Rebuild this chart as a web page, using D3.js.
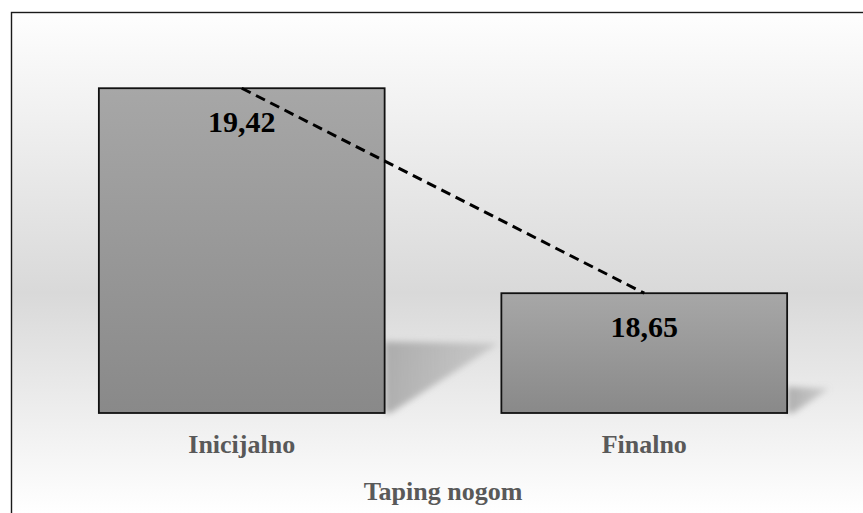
<!DOCTYPE html>
<html>
<head>
<meta charset="utf-8">
<script src="https://cdn.jsdelivr.net/npm/d3@7"></script>
<style>
  html, body { margin: 0; padding: 0; background: #fff; }
  svg { display: block; }
</style>
</head>
<body>
<svg id="chart" width="863" height="513"></svg>
<script>
const categories = ["Inicijalno", "Finalno"];
const values = [19.42, 18.65];
const valueLabels = ["19,42", "18,65"];
const axisTitle = "Taping nogom";
const yDomain = [18.2, 19.6];

const W = 863, H = 513;
const svg = d3.select("#chart");
const defs = svg.append("defs");

const bg = defs.append("linearGradient").attr("id", "bg")
  .attr("gradientUnits", "userSpaceOnUse").attr("x1", 0).attr("y1", 12).attr("x2", 0).attr("y2", 513);
bg.append("stop").attr("offset", 0).attr("stop-color", "#fefefe");
bg.append("stop").attr("offset", 0.56).attr("stop-color", "#d9d9d9");
bg.append("stop").attr("offset", 1).attr("stop-color", "#ffffff");

const barG = defs.append("linearGradient").attr("id", "barg")
  .attr("x1", 0).attr("y1", 0).attr("x2", 0).attr("y2", 1);
barG.append("stop").attr("offset", 0).attr("stop-color", "#a7a7a7");
barG.append("stop").attr("offset", 1).attr("stop-color", "#898989");

const shG = defs.append("linearGradient").attr("id", "shg")
  .attr("x1", 0).attr("y1", 0).attr("x2", 1).attr("y2", 0);
shG.append("stop").attr("offset", 0).attr("stop-color", "#9a9a9a").attr("stop-opacity", 0.75);
shG.append("stop").attr("offset", 1).attr("stop-color", "#9a9a9a").attr("stop-opacity", 0.35);

const blur = defs.append("filter").attr("id", "blur")
  .attr("x", "-20%").attr("y", "-20%").attr("width", "140%").attr("height", "140%");
blur.append("feGaussianBlur").attr("stdDeviation", 3);

// background + border (top and left visible)
svg.append("rect").attr("x", 11.5).attr("y", 12.5).attr("width", W).attr("height", H)
  .attr("fill", "url(#bg)").attr("stroke", "#1a1a1a").attr("stroke-width", 1.4);

const x = d3.scaleBand().domain(categories).range([40.5, 845.5])
  .paddingInner(0.29).paddingOuter(0.145);
const y = d3.scaleLinear().domain(yDomain).range([413, 40.3]);

const data = categories.map((c, i) => ({ c, v: values[i], label: valueLabels[i] }));

// shadows
svg.append("g").selectAll("polygon").data(data).join("polygon")
  .attr("points", d => {
    const r = x(d.c) + x.bandwidth();
    const b = y(yDomain[0]);
    const h = b - y(d.v);
    const top = b - 0.22 * h;
    const tip = r + 0.35 * h;
    return [[r, top], [tip, top + 2], [r + 6, b], [r, b]].map(p => p.join(",")).join(" ");
  })
  .attr("fill", "url(#shg)")
  .attr("filter", "url(#blur)");

// bars
svg.append("g").selectAll("rect").data(data).join("rect")
  .attr("x", d => x(d.c))
  .attr("y", d => y(d.v))
  .attr("width", x.bandwidth())
  .attr("height", d => y(yDomain[0]) - y(d.v))
  .attr("fill", "url(#barg)")
  .attr("stroke", "#111")
  .attr("stroke-width", 1.8);

// dashed trend line
const line = d3.line().x(d => x(d.c) + x.bandwidth() / 2).y(d => y(d.v));
svg.append("path").datum(data).attr("d", line)
  .attr("fill", "none").attr("stroke", "#000").attr("stroke-width", 3)
  .attr("stroke-dasharray", "10,6");

// value labels
svg.append("g").selectAll("text").data(data).join("text")
  .attr("x", d => x(d.c) + x.bandwidth() / 2)
  .attr("y", d => y(d.v) + 44)
  .attr("text-anchor", "middle")
  .attr("font-family", "'Liberation Serif', 'Times New Roman', serif")
  .attr("font-weight", "bold").attr("font-size", 30).attr("fill", "#000")
  .text(d => d.label);

// category labels
svg.append("g").selectAll("text").data(categories).join("text")
  .attr("x", d => x(d) + x.bandwidth() / 2)
  .attr("y", y(yDomain[0]) + 40)
  .attr("text-anchor", "middle")
  .attr("font-family", "'Liberation Serif', 'Times New Roman', serif")
  .attr("font-weight", "bold").attr("font-size", 26).attr("fill", "#595959")
  .text(d => d);

// axis title
svg.append("text")
  .attr("x", (x.range()[0] + x.range()[1]) / 2)
  .attr("y", 500)
  .attr("text-anchor", "middle")
  .attr("font-family", "'Liberation Serif', 'Times New Roman', serif")
  .attr("font-weight", "bold").attr("font-size", 26).attr("fill", "#595959")
  .text(axisTitle);
</script>
</body>
</html>
